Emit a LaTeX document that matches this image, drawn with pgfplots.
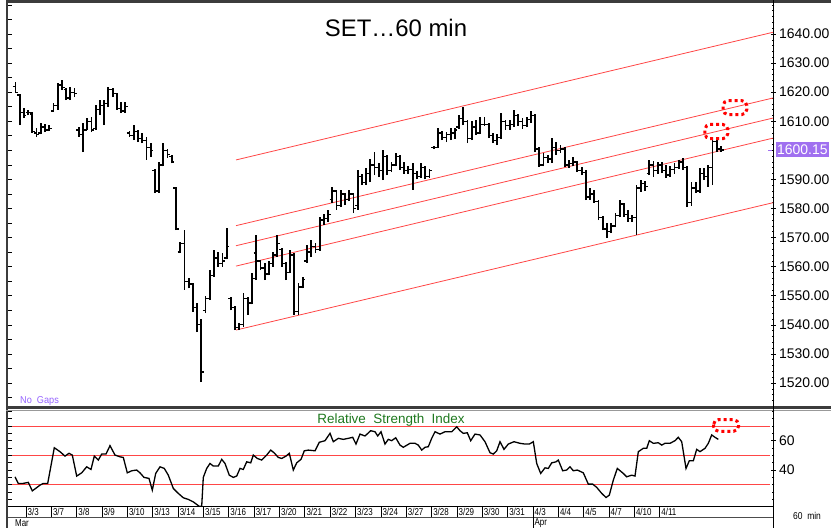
\documentclass[border=0pt]{standalone}
\usepackage{fontspec}
\setmainfont{Liberation Sans}
\usepackage{pgfplots}
\usepackage{pgfplotstable}
\pgfplotsset{compat=1.18}
\definecolor{chan}{RGB}{255,70,70}
\definecolor{framec}{RGB}{60,60,60}
\definecolor{purp}{RGB}{160,112,240}
\definecolor{nogap}{RGB}{150,100,255}
\definecolor{rsigreen}{RGB}{30,120,30}
\pgfdeclareplotmark{otick}{\pgfpathmoveto{\pgfqpoint{-2.6pt}{0pt}}\pgfpathlineto{\pgfqpoint{0pt}{0pt}}\pgfusepathqstroke}
\pgfdeclareplotmark{ctick}{\pgfpathmoveto{\pgfqpoint{0pt}{0pt}}\pgfpathlineto{\pgfqpoint{2.6pt}{0pt}}\pgfusepathqstroke}

\pgfplotstableread{
x O H L C
-2.5 1622 1623.5 1619.8 1620
-1.5 1619 1619.5 1608.7 1613
-0.5 1613 1614.6 1611.1 1612
0.5 1613 1614 1612 1613
1.5 1612.5 1613.2 1606 1606.5
2.5 1606 1607.7 1604.6 1605.5
3.5 1606 1609.4 1605.5 1608
4.5 1608 1609 1606.3 1607
5.5 1607 1608.7 1606.6 1607.5
6.5 1613.5 1616.3 1613.2 1615.5
7.5 1615.5 1623.2 1613.9 1622.5
8.5 1622.5 1624.2 1620.7 1621.5
9.5 1621 1621.4 1617.3 1618
10.5 1618 1621.8 1617.3 1620
11.5 1620 1621.4 1618.3 1619.5
12.5 1607 1608 1604.6 1605.5
13.5 1605.5 1609.4 1599.4 1607
14.5 1607 1611.1 1607 1610
15.5 1610 1611.5 1606.3 1607
16.5 1607.5 1615.6 1607 1614
17.5 1614 1617.3 1612.1 1615.5
18.5 1615.5 1617.3 1608.7 1616
19.5 1616 1621.8 1614.9 1621
20.5 1621 1621.4 1618.3 1619.5
21.5 1619.5 1619.7 1613.9 1614.5
22.5 1614.5 1616.6 1612.8 1613.5
23.5 1613.5 1616.6 1613 1615
24.5 1606 1606.5 1604.6 1605
25.5 1605 1608.7 1603.5 1606.5
26.5 1606.5 1607 1602.8 1604
27.5 1604 1606 1602.5 1603.5
28.5 1603.5 1604.6 1596.7 1601
29.5 1601 1602.5 1597.7 1600
30.5 1593 1593.5 1585.3 1586
31.5 1586 1596 1585.5 1595
32.5 1595 1602.5 1594.5 1600
33.5 1600 1600.5 1597.5 1598.5
34.5 1598 1598.5 1595.5 1596
35.5 1587 1587.5 1572.6 1573
36.5 1565 1568.5 1564.7 1568
37.5 1568 1572.6 1552 1555
38.5 1555 1556 1552.5 1554
39.5 1554 1554.5 1544.5 1546
40.5 1546 1547.5 1537.5 1540
41.5 1540 1542 1520.3 1523.8
42.5 1545 1550 1544 1549
43.5 1549 1559 1548.5 1557
44.5 1557 1565.7 1556.5 1563
45.5 1563 1565 1560 1561
46.5 1561 1564.7 1559.9 1562
47.5 1563 1573.3 1562.5 1567
48.5 1549 1549.6 1545 1546
49.5 1546 1546.5 1538.2 1539
50.5 1539 1540.5 1538.2 1540
51.5 1540 1551 1539.2 1549
52.5 1549 1549.5 1543.5 1547.5
53.5 1547.5 1557.8 1547 1556
54.5 1564.7 1571 1555.4 1562
55.5 1562 1562.3 1558.8 1559.5
56.5 1559.5 1561.3 1555.4 1557.5
57.5 1557.5 1562 1557 1561
58.5 1561 1565 1560 1564
59.5 1564 1571 1563.3 1568
60.5 1566 1566.5 1559.9 1561
61.5 1561 1561.6 1555.4 1558
62.5 1558 1565.7 1557.8 1564
63.5 1564 1564.7 1543.4 1544.5
64.5 1544.5 1554.4 1543.5 1553
65.5 1553 1556.4 1552.5 1555.5
66.5 1562 1567.4 1561.3 1565
67.5 1565 1569.2 1563.3 1567
68.5 1567 1568.1 1564.7 1566
69.5 1566 1577 1565.5 1576
70.5 1576 1578 1574.3 1576.5
71.5 1576.5 1579.5 1575.5 1578
72.5 1583 1587.4 1582 1586
73.5 1586 1586.4 1579.5 1581
74.5 1581 1586.4 1580.5 1585
75.5 1585 1585.5 1581.2 1583
76.5 1583 1586.4 1582.5 1585
77.5 1585 1585.5 1578.4 1580
78.5 1581 1593.2 1579.5 1591
79.5 1591 1592 1588 1589
80.5 1589 1593.9 1588.1 1592
81.5 1592 1597 1589 1595
82.5 1595 1599.4 1591.5 1594
83.5 1594 1595.5 1590.8 1593
84.5 1593 1600.1 1589.8 1598
85.5 1598 1598.5 1591.5 1593
86.5 1593 1596 1592.5 1595
87.5 1595 1599 1594.5 1598
88.5 1598 1598.4 1593.2 1594
89.5 1594 1596 1592 1593
90.5 1593 1594.5 1592 1593.5
91.5 1593.5 1595.6 1586.4 1592
92.5 1592 1593 1590 1591
93.5 1591 1595.6 1590.5 1594
94.5 1594 1594.5 1590 1591
95.5 1591 1593.5 1590.5 1593
96.5 1601 1601.5 1600.5 1601
97.5 1601 1607.7 1600.8 1606
98.5 1606 1606.5 1603.5 1604.5
99.5 1604.5 1606.3 1602.8 1605.5
100.5 1605.5 1607.7 1603.5 1606
101.5 1606 1607.7 1604 1607
102.5 1608 1612.1 1607.5 1611
103.5 1611 1615 1608.7 1610
104.5 1610 1610.4 1602.5 1604
105.5 1604 1610 1603.5 1608
106.5 1608 1610.4 1605.3 1606
107.5 1606 1611.5 1605.5 1609
108.5 1609 1611.5 1608.5 1609
109.5 1609 1609.4 1604.2 1605
110.5 1605 1606 1602.5 1603.5
111.5 1603.5 1605.5 1601.8 1604.5
112.5 1604.5 1612.8 1604 1610
113.5 1610 1610.4 1607 1608.5
114.5 1608.5 1610.5 1607 1609
115.5 1609 1613.9 1608 1612
116.5 1612 1612.5 1608.5 1610
117.5 1610 1611 1607.5 1608.5
118.5 1608.5 1611.5 1608 1610.5
119.5 1610.5 1613.5 1609.5 1612
120.5 1612 1612.5 1599.4 1600.5
121.5 1600.5 1601 1594.3 1595
122.5 1595 1599 1594.5 1597.5
123.5 1597.5 1598.4 1595.6 1597
124.5 1597 1604.2 1595.6 1601
125.5 1601 1603 1598.5 1600
126.5 1600 1602 1599 1600.5
127.5 1600.5 1601.1 1594.3 1595
128.5 1595 1596.7 1593.9 1595.5
129.5 1595.5 1597.7 1594.5 1596
130.5 1596 1596.5 1592.5 1593
131.5 1593 1594.3 1591.5 1592.5
132.5 1592.5 1593.2 1582.9 1584
133.5 1584 1587 1583 1585
134.5 1585 1586.4 1581.9 1582.5
135.5 1582.5 1583 1576 1577
136.5 1577 1577.5 1572.6 1573
137.5 1573 1575 1569.8 1572
138.5 1572 1575 1571.5 1574
139.5 1574 1578.4 1573.6 1577.5
140.5 1577.5 1582.9 1577 1581.5
141.5 1581.5 1582 1577 1578
142.5 1578 1579.5 1575.4 1576.5
143.5 1576.5 1577.8 1575.4 1577
144.5 1577 1588.1 1570.9 1587
145.5 1587 1589.8 1585.7 1588.5
146.5 1588.5 1589.5 1586 1587.5
147.5 1592 1596.7 1591.5 1595
148.5 1595 1596.5 1591 1593
149.5 1593 1596 1592 1595
150.5 1595 1596 1592.2 1593
151.5 1593 1595 1590.5 1591.5
152.5 1591.5 1594.5 1591 1593.5
153.5 1593.5 1595.6 1592 1594
154.5 1594 1596.7 1593.5 1596
155.5 1596 1597.4 1593.2 1594
156.5 1594 1594.5 1580.5 1582
157.5 1582 1589.1 1581 1587
158.5 1587 1589 1585.3 1586
159.5 1586 1593.9 1585.5 1592
160.5 1592 1593.9 1589.8 1591
161.5 1591 1595 1587.4 1594
162.5 1594 1604 1588 1603
163.5 1603 1603.5 1599.5 1600.5
164.5 1600.5 1601.5 1599.5 1600.15
}\ohlc

\begin{document}
\begin{tikzpicture}
\useasboundingbox (0,0) rectangle (831bp,-528bp);

% ---------- main price panel ----------
\begin{axis}[
  at={(8bp,-407bp)}, anchor=south west, scale only axis,
  width=765bp, height=404bp,
  xmin=-4.26, xmax=176.8, ymin=1511.75, ymax=1650.66,
  axis line style={draw=none},
  xtick=\empty,
  ytick={1520,1530,1540,1550,1560,1570,1580,1590,1610,1620,1630,1640},
  minor ytick={1512,1514,...,1650},
  ytick pos=right, yticklabel pos=right,
  tick align=center, major tick length=5bp, minor tick length=2.5bp,
  every tick/.style={black, line width=0.6bp},
  yticklabel style={font=\fontsize{14}{14}\selectfont, anchor=west,
    /pgf/number format/fixed, /pgf/number format/fixed zerofill,
    /pgf/number format/precision=2, /pgf/number format/1000 sep={},
    /pgf/number format/assume math mode=true},
  clip mode=individual,
]
% channel lines
\addplot[chan, line width=0.8bp] coordinates {(49.7,1596.7) (176.8,1640.6)};
\addplot[chan, line width=0.8bp] coordinates {(49.7,1574.1) (176.8,1618.0)};
\addplot[chan, line width=0.8bp] coordinates {(49.7,1567.2) (176.8,1611.1)};
\addplot[chan, line width=0.8bp] coordinates {(49.7,1560.2) (176.8,1604.2)};
\addplot[chan, line width=0.8bp] coordinates {(49.7,1538.2) (176.8,1582.0)};
% OHLC bars: high-low range
\addplot[forget plot, draw=none, mark=none,
  error bars/.cd, y dir=plus, y explicit, error mark=none,
  error bar style={draw=black, solid, line width=1.8bp}]
  table[x=x, y=L, y error plus expr=\thisrow{H}-\thisrow{L}] {\ohlc};
% open and close ticks
\addplot[draw=none, mark=otick, mark options={draw=black, solid, line width=1.3bp}] table[x=x, y=O] {\ohlc};
\addplot[draw=none, mark=ctick, mark options={draw=black, solid, line width=1.3bp}] table[x=x, y=C] {\ohlc};
% left ticks
\pgfplotsinvokeforeach{1515,1520,1525,1530,1535,1540,1545,1550,1555,1560,1565,1570,1575,1580,1585,1590,1595,1600,1605,1610,1615,1620,1625,1630,1635,1640,1645,1650}{
  \draw[black, line width=0.6bp] (axis cs:-4.26,#1) -- ++(4bp,0bp);
}
% highlight boxes
\draw[red, line width=3bp, dash pattern=on 3bp off 3bp, rounded corners=5bp]
  (axis cs:165.0,1612.3) rectangle (axis cs:170.6,1617.1);
\draw[red, line width=3bp, dash pattern=on 3bp off 3bp, rounded corners=5bp]
  (axis cs:160.7,1604.0) rectangle (axis cs:166.1,1608.9);
\coordinate (pb) at (axis cs:176.8,1600.15);
\end{axis}

% ---------- RSI panel ----------
\begin{axis}[
  at={(8bp,-506bp)}, anchor=south west, scale only axis,
  width=765bp, height=96bp,
  xmin=8, xmax=773, ymin=15.5, ymax=80.9,
  axis line style={draw=none},
  xtick=\empty,
  ytick={40,60},
  minor ytick={20,25,30,35,45,50,55,65,70,75,80},
  ytick pos=right, yticklabel pos=right,
  tick align=center, major tick length=5bp, minor tick length=2.5bp,
  every tick/.style={black, line width=0.6bp},
  yticklabel style={font=\fontsize{14}{14}\selectfont, anchor=west,
    /pgf/number format/assume math mode=true},
  clip mode=individual,
]
\addplot[chan, line width=0.8bp] coordinates {(8,70) (770,70)};
\addplot[chan, line width=0.8bp] coordinates {(8,50) (770,50)};
\addplot[chan, line width=0.8bp] coordinates {(8,30) (770,30)};
\addplot[black, line width=1.3bp] coordinates {
(15,35.4) (18.3,30.9) (23.3,30.9) (28.3,31.6) (32.3,25.8) (40,29.7) (43.3,30.9) (47.7,30.9)
(51.7,45.6) (54.3,55.2) (60,52.5) (65,49.5) (69,51.4) (72.3,50.2) (76.7,35.9) (81.7,38.1)
(86.7,42.2) (91,40.4) (94.3,49.5) (98.3,46.8) (101.7,50.9) (106,50.9) (110,56.6) (115,50.2)
(120,49.0) (123.3,48.6) (127.3,38.1) (131.7,39.5) (136.7,40.0) (140,38.1) (144,35.0) (149,34.3)
(152.3,26.3) (155.7,37.7) (160,42.2) (164.3,41.1) (168.3,36.5) (173.3,27.5) (178.3,24.1)
(183.3,21.1) (188.3,20.0) (193.3,18.3) (199,15.4) (201.7,15.4) (203.3,35.0) (206.7,41.1)
(210,44.5) (213.3,42.7) (218.3,42.7) (221.7,47.3) (225,44.5) (229.3,36.5) (233.3,35.0)
(236.7,35.9) (240,41.1) (243.3,40.4) (246.7,45.6) (250.7,44.9) (253.3,50.2) (257.3,47.9)
(261.7,46.8) (266.7,50.2) (270.7,53.6) (274,51.8) (278.3,48.6) (281.7,47.9) (286,49.5)
(289.3,51.4) (293.3,40.0) (296.7,44.9) (301,47.3) (304.3,53.1) (308.3,53.6) (315,53.1)
(319.3,58.9) (325,60.0) (330,65.0) (333.3,59.3) (338.3,61.6) (343.3,60.9) (348.3,61.6)
(352.7,62.3) (356,57.7) (360,64.5) (365,63.2) (370.7,66.8) (375,66.1) (377.7,63.2) (381,66.1)
(385,57.7) (388.3,60.9) (391.7,60.0) (395.7,62.0) (400,57.0) (403.3,55.5) (410,58.2)
(415,58.2) (418.3,57.0) (421.7,53.6) (425,55.5) (428.3,55.9) (431.7,61.6) (435,66.1)
(440,64.5) (445,66.1) (451.7,66.1) (456.7,69.5) (460,66.8) (463.3,65.0) (467.3,65.4)
(470.7,60.0) (475,64.5) (480,63.9) (485,59.3) (490,51.8) (493.3,50.9) (496.7,53.1) (500,59.3)
(504,54.1) (508.3,57.7) (514,59.3) (520,58.2) (525,57.7) (529.3,57.7) (533.3,59.3)
(536.7,44.5) (540.7,37.7) (545,41.5) (548.3,41.1) (551.7,44.9) (556,45.6) (558.3,46.8)
(562.7,39.5) (566.7,40.0) (570,42.2) (573.3,39.5) (577.3,40.0) (583.3,38.1) (588.3,30.4)
(592.7,30.4) (596.7,28.2) (601.7,24.1) (606,21.3) (609.3,22.9) (613.3,33.1) (617.3,41.1)
(623.3,37.7) (626.7,35.4) (631.7,36.5) (635,35.9) (638.3,52.5) (643.3,54.8) (646.7,54.8)
(649.3,60.0) (653.3,58.2) (658.3,58.6) (661.7,57.0) (665,58.2) (670,58.2) (675,60.0)
(678.3,62.3) (681.7,59.3) (686,41.1) (689.3,46.3) (693.3,46.3) (696.7,54.1) (700,52.5)
(705,54.8) (708.3,58.2) (711.7,63.9) (715,62.3) (718.3,60.9)
};
\pgfplotsinvokeforeach{20,25,30,35,40,45,50,55,60,65,70,75,80}{
  \draw[black, line width=0.6bp] (axis cs:8,#1) -- ++(4bp,0bp);
}
\draw[red, line width=3bp, dash pattern=on 3bp off 3bp, rounded corners=5bp]
  (axis cs:713.5,74.3) rectangle (axis cs:738.5,66.4);
\end{axis}

% ---------- frames ----------
\draw[framec, line width=3bp] (6bp,-1.5bp) -- (831bp,-1.5bp);
\draw[framec, line width=2.5bp] (7bp,0bp) -- (7bp,-528bp);
\draw[framec, line width=3bp] (6bp,-407.5bp) -- (831bp,-407.5bp);
\draw[black!40, line width=1bp] (6bp,-410.5bp) -- (831bp,-410.5bp);
\draw[black, line width=0.8bp] (773bp,0bp) -- (773bp,-528bp);
\draw[black, line width=0.8bp] (8bp,-506bp) -- (773bp,-506bp);
\draw[black!70, line width=0.8bp] (8bp,-517bp) -- (773bp,-517bp);
\draw[black, line width=0.8bp] (533bp,-517bp) -- (533bp,-528bp);

% date row
\foreach \lab [count=\i from 0] in {3/3,3/7,3/8,3/9,3/10,3/13,3/14,3/15,3/16,3/17,3/20,3/21,3/22,3/23,3/24,3/27,3/28,3/29,3/30,3/31,4/3,4/4,4/5,4/7,4/10,4/11}{
  \pgfmathsetmacro\xx{26+25.35*\i}
  \draw[black, line width=0.8bp] (\xx bp,-506bp) -- (\xx bp,-517bp);
  \node[anchor=west, inner sep=0pt, font=\fontsize{10}{10}\selectfont, xscale=0.8] at (\xx bp+1.5bp,-511.8bp) {\lab};
}
\node[anchor=west, inner sep=0pt, font=\fontsize{10}{10}\selectfont, xscale=0.8] at (15bp,-523bp) {Mar};
\node[anchor=west, inner sep=0pt, font=\fontsize{10}{10}\selectfont, xscale=0.8] at (534.5bp,-523bp) {Apr};
\node[anchor=west, inner sep=0pt, font=\fontsize{10}{10}\selectfont, xscale=0.85] at (793bp,-516bp) {60\ \ min};

% texts
\node[font=\fontsize{24}{24}\selectfont] at (396bp,-28bp) {SET…60 min};
\node[anchor=west, inner sep=0pt, text=nogap, font=\fontsize{10}{10}\selectfont, xscale=0.92] at (20bp,-401bp) {No\ \ Gaps};
\node[text=rsigreen, inner sep=0pt, font=\fontsize{13.5}{13.5}\selectfont] at (391bp,-420bp) {Relative\ \ Strength\ \ Index};
\node[fill=purp, text=white, anchor=west, inner xsep=1bp, inner ysep=2.5bp, font=\fontsize{14}{14}\selectfont] at ([xshift=3bp]pb) {1600.15};
\draw[purp, line width=0.8bp] ([xshift=-5bp]pb) -- ([xshift=-1bp]pb);
\end{tikzpicture}
\end{document}
